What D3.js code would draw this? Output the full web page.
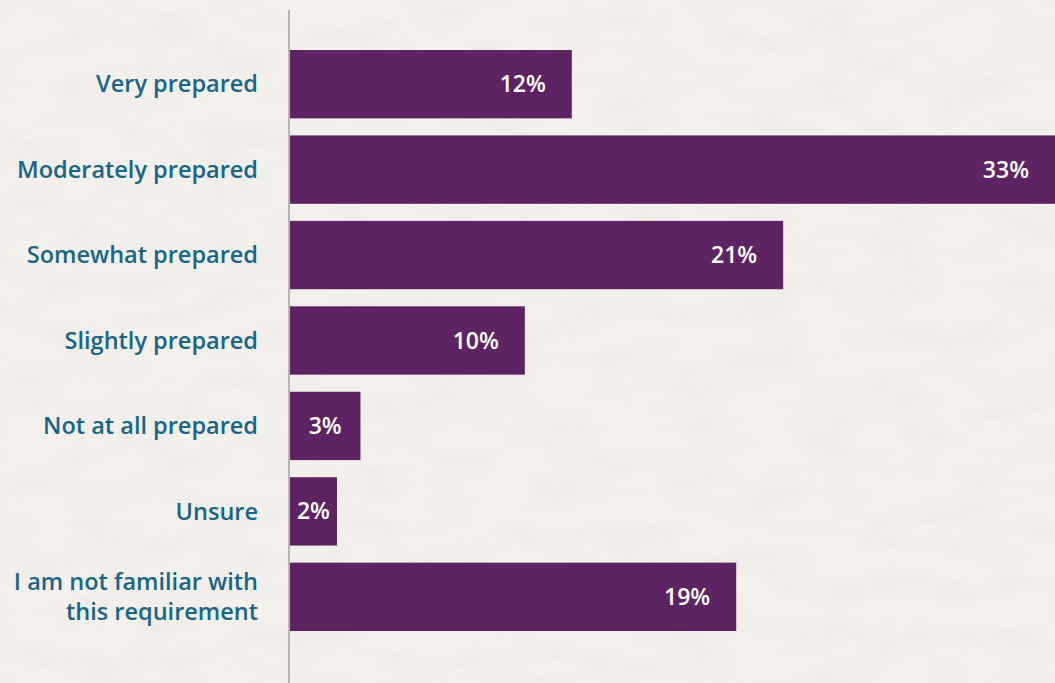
<!DOCTYPE html>
<html>
<head>
<meta charset="utf-8">
<script src="https://cdn.jsdelivr.net/npm/d3@7"></script>
<style>
  html, body { margin: 0; padding: 0; background: #f4f1ec; overflow: hidden; }
  text { font-family: 'Open Sans', sans-serif; }
</style>
</head>
<body>
<div id="chart"></div>
<script>
// Data

var categories = [
  'Very prepared',
  'Moderately prepared',
  'Somewhat prepared',
  'Slightly prepared',
  'Not at all prepared',
  'Unsure',
  'I am not familiar with|this requirement'
]

var shares = [12, 33, 21, 10, 3, 2, 19]

var valueLabels = ['12%', '33%', '21%', '10%', '3%', '2%', '19%']

// Set up margin/height/width

var margin = { top: 50, left: 290, right: 0, bottom: 52 }
var totalWidth = 1055
var totalHeight = 683
var width = totalWidth - margin.left - margin.right
var height = totalHeight - margin.top - margin.bottom

var svg = d3
  .select('#chart')
  .append('svg')
  .attr('width', totalWidth)
  .attr('height', totalHeight)

// paper-ish background
var defs = svg.append('defs')
var paper = defs.append('filter').attr('id', 'paper')
  .attr('x', 0).attr('y', 0).attr('width', '100%').attr('height', '100%')
paper.append('feTurbulence')
  .attr('type', 'fractalNoise')
  .attr('baseFrequency', '0.015 0.04')
  .attr('numOctaves', 4)
  .attr('seed', 3)
paper.append('feColorMatrix')
  .attr('type', 'matrix')
  .attr('values', '0 0 0 0 0.55  0 0 0 0 0.52  0 0 0 0 0.47  0 0 0 -0.9 0.55')

svg.append('rect')
  .attr('width', totalWidth)
  .attr('height', totalHeight)
  .attr('fill', '#f4f1ec')
svg.append('rect')
  .attr('width', totalWidth)
  .attr('height', totalHeight)
  .attr('filter', 'url(#paper)')
  .attr('opacity', 0.22)

var g = svg.append('g')
  .attr('transform', 'translate(' + margin.left + ',' + margin.top + ')')

// Scales

var xPositionScale = d3.scaleLinear().domain([0, 33]).range([0, 775])

var yPositionScale = d3
  .scaleBand()
  .domain(categories)
  .range([0, height])
  .paddingInner(0.2)
  .paddingOuter(0)

var rows = categories.map((c, i) => ({ key: c, value: shares[i], label: valueLabels[i] }))

// Bars

g.selectAll('.bar')
  .data(rows)
  .enter()
  .append('rect')
  .attr('class', 'bar')
  .attr('x', 0)
  .attr('y', d => yPositionScale(d.key))
  .attr('width', d => xPositionScale(d.value))
  .attr('height', yPositionScale.bandwidth())
  .attr('fill', '#5e2362')

// Value labels inside the bars

g.selectAll('.value-label')
  .data(rows)
  .enter()
  .append('text')
  .attr('class', 'value-label')
  .text(d => d.label)
  .attr('fill', '#ffffff')
  .attr('font-size', 23)
  .attr('font-weight', 600)
  .attr('dy', '0.35em')
  .attr('y', d => yPositionScale(d.key) + yPositionScale.bandwidth() / 2)
  .each(function(d) {
    var w = this.getComputedTextLength()
    var barW = Math.min(xPositionScale(d.value), width)
    if (barW > w + 50) {
      d3.select(this).attr('x', barW - 26).attr('text-anchor', 'end')
    } else {
      d3.select(this).attr('x', barW / 2).attr('text-anchor', 'middle')
    }
  })

// Category labels on the left

var labels = g.selectAll('.cat-label')
  .data(rows)
  .enter()
  .append('text')
  .attr('class', 'cat-label')
  .attr('text-anchor', 'end')
  .attr('fill', '#17658a')
  .attr('font-size', 23.5)
  .attr('font-weight', 600)
  .attr('x', -32)
  .attr('y', d => yPositionScale(d.key) + yPositionScale.bandwidth() / 2)

labels.each(function(d) {
  var lines = d.key.split('|')
  var el = d3.select(this)
  lines.forEach((line, i) => {
    el.append('tspan')
      .attr('x', -32)
      .attr('dy', i === 0 ? (0.35 - (lines.length - 1) * 0.65) + 'em' : '1.3em')
      .text(line)
  })
})

// Axis line

svg.append('line')
  .attr('x1', margin.left - 1)
  .attr('x2', margin.left - 1)
  .attr('y1', 10)
  .attr('y2', totalHeight)
  .attr('stroke', '#b5b5b5')
  .attr('stroke-width', 2)
</script>
</body>
</html>
